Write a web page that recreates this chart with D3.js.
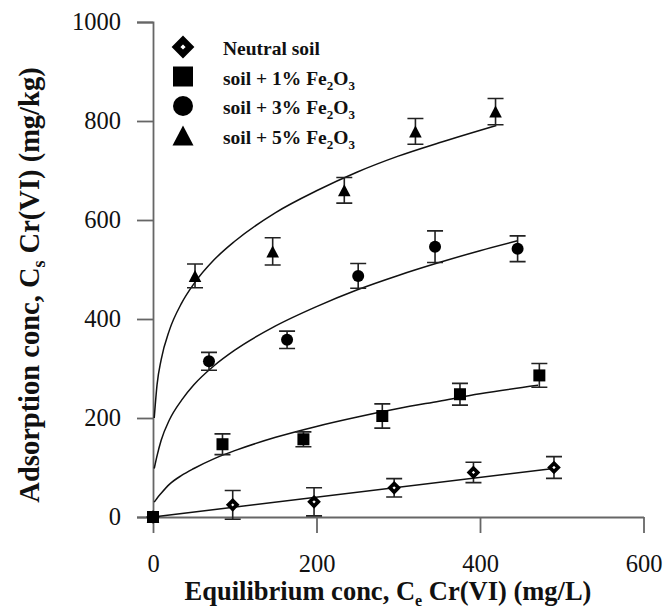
<!DOCTYPE html>
<html>
<head>
<meta charset="utf-8">
<script src="https://cdn.jsdelivr.net/npm/d3@7"></script>
<style>
  body { margin: 0; background: #fff; }
  svg { display: block; }
  svg text { font-family: 'Liberation Serif', 'Times New Roman', serif; }
</style>
</head>
<body>
<svg id="chart"></svg>
<script>
const WIDTH = 667;
const HEIGHT = 609;

// Pixel box of the plot area.
const X0 = 153, X1 = 643.5;
const Y0 = 517, Y1 = 22;

const AXIS_COLOR = '#666';
const TICK_SIZE = 16;

// Measured points (Ce in mg/L, Cs in mg/kg) with error bar half-widths.
const neutralX = [0, 97.5, 197, 295, 392, 490.5];
const neutralY = [0, 24.6, 30.7, 59, 90, 100];
const neutralErr = [0, 29, 28.5, 18.5, 20.5, 22];

const fe1X = [0, 85, 184, 280.5, 375.5, 472.6];
const fe1Y = [0, 147, 157, 204, 248, 286];
const fe1Err = [0, 21, 15, 24.5, 22, 24];

const fe3X = [0, 68.5, 164, 251, 345, 446];
const fe3Y = [0, 314.5, 358, 487, 546, 542];
const fe3Err = [0, 18, 17.5, 25, 32, 26];

const fe5X = [0, 51.4, 146.4, 234, 321, 419];
const fe5Y = [0, 487, 536.5, 660, 779, 819];
const fe5Err = [0, 24, 27.5, 26, 26, 26.5];

// Fitted isotherm curves.
const fitNeutralX = [0, 490];
const fitNeutralY = [0, 98];

const fit1X = [1.5, 5, 10, 20, 35, 50, 75, 100, 150, 200, 250, 300, 350, 400, 471];
const fit1Y = [30, 38, 48, 66, 84, 98, 118, 134, 161, 183, 202, 219, 234, 249, 266];

const fit3X = [1.5, 5, 10, 20, 35, 50, 75, 100, 150, 200, 250, 300, 350, 400, 446];
const fit3Y = [98, 124, 155, 196, 236, 267, 306, 337, 386, 425, 459, 488, 514, 538, 558];

const fit5X = [1.5, 5, 10, 20, 35, 50, 75, 100, 150, 200, 250, 300, 350, 420];
const fit5Y = [200, 268, 318, 377, 432, 471, 520, 557, 615, 659, 697, 729, 756, 791];

const xTicks = [0, 200, 400, 600];
const yTicks = [0, 200, 400, 600, 800, 1000];

const legendLabels = ['Neutral soil', 'soil + 1% Fe', 'soil + 3% Fe', 'soil + 5% Fe'];
const legendSymbols = ['diamond', 'square', 'circle', 'triangle'];

const series = [
  {symbol: 'diamond', xs: neutralX, ys: neutralY, errs: neutralErr, fx: fitNeutralX, fy: fitNeutralY},
  {symbol: 'square', xs: fe1X, ys: fe1Y, errs: fe1Err, fx: fit1X, fy: fit1Y},
  {symbol: 'circle', xs: fe3X, ys: fe3Y, errs: fe3Err, fx: fit3X, fy: fit3Y},
  {symbol: 'triangle', xs: fe5X, ys: fe5Y, errs: fe5Err, fx: fit5X, fy: fit5Y}
];

const svg = d3.select('#chart').attr('width', WIDTH).attr('height', HEIGHT);

const xScale = d3.scaleLinear().domain([0, 600]).range([X0, X1]);
const yScale = d3.scaleLinear().domain([0, 1000]).range([Y0, Y1]);

// Draws one marker centred on (cx, cy); r is half the box size.
function drawMarker(g, symbol, cx, cy, r) {
  if (symbol === 'square') {
    g.append('rect')
      .attr('x', cx - r).attr('y', cy - r)
      .attr('width', 2 * r).attr('height', 2 * r)
      .attr('fill', '#000');
  } else if (symbol === 'circle') {
    g.append('circle').attr('cx', cx).attr('cy', cy).attr('r', r).attr('fill', '#000');
  } else if (symbol === 'triangle') {
    g.append('path')
      .attr('d', `M${cx},${cy - r}L${cx + r * 1.05},${cy + r}L${cx - r * 1.05},${cy + r}Z`)
      .attr('fill', '#000');
  } else {
    // open diamond with a heavy outline
    const d = r * 0.7;
    g.append('path')
      .attr('d', `M${cx},${cy - d}L${cx + d},${cy}L${cx},${cy + d}L${cx - d},${cy}Z`)
      .attr('fill', '#fff')
      .attr('stroke', '#000')
      .attr('stroke-width', r * 0.62)
      .attr('stroke-linejoin', 'miter');
  }
}

// Axes
const xAxis = d3.axisBottom(xScale)
  .tickValues(xTicks)
  .tickFormat(d3.format('d'))
  .tickSize(TICK_SIZE)
  .tickSizeOuter(0)
  .tickPadding(22);

const yAxis = d3.axisLeft(yScale)
  .tickValues(yTicks)
  .tickFormat(d3.format('d'))
  .tickSize(TICK_SIZE)
  .tickSizeOuter(TICK_SIZE)
  .tickPadding(16);

const xAxisGroup = svg.append('g')
  .attr('transform', `translate(0, ${Y0})`)
  .call(xAxis);

const yAxisGroup = svg.append('g')
  .attr('transform', `translate(${X0}, 0)`)
  .call(yAxis);

for (const g of [xAxisGroup, yAxisGroup]) {
  g.attr('font-family', null).attr('font-size', null);
  g.selectAll('path, line').attr('stroke', AXIS_COLOR).attr('stroke-width', 1.8);
  g.selectAll('text')
    .attr('fill', '#111')
    .style('font-family', "'Liberation Serif', 'Times New Roman', serif")
    .style('font-size', '24.5px');
}

// Fitted curves
const line = d3.line()
  .x(d => xScale(d[0]))
  .y(d => yScale(d[1]))
  .curve(d3.curveMonotoneX);

for (const s of series) {
  svg.append('path')
    .datum(d3.zip(s.fx, s.fy))
    .attr('d', line)
    .attr('fill', 'none')
    .attr('stroke', '#111')
    .attr('stroke-width', 1.5);
}

// Error bars and markers
const CAP = 8;
for (const s of series) {
  const g = svg.append('g');
  s.xs.forEach((x, i) => {
    const e = s.errs[i];
    if (e > 0) {
      const px = xScale(x);
      const top = yScale(s.ys[i] + e);
      const bottom = yScale(s.ys[i] - e);
      g.append('path')
        .attr('d', `M${px},${top}V${bottom}M${px - CAP},${top}H${px + CAP}M${px - CAP},${bottom}H${px + CAP}`)
        .attr('fill', 'none')
        .attr('stroke', '#222')
        .attr('stroke-width', 1.6);
    }
  });
  s.xs.forEach((x, i) => drawMarker(g, s.symbol, xScale(x), yScale(s.ys[i]), 6));
}

// Legend
const legend = svg.append('g');
legendLabels.forEach((label, i) => {
  const baseline = 55 + i * 29.5;
  drawMarker(legend, legendSymbols[i], 183, baseline - 8, 10);
  const t = legend.append('text')
    .attr('x', 223).attr('y', baseline)
    .attr('fill', '#111')
    .attr('font-weight', 'bold')
    .style('font-size', '19.5px');
  t.append('tspan').text(label);
  if (i > 0) {
    t.append('tspan').attr('dy', 5).style('font-size', '13px').text('2');
    t.append('tspan').attr('dy', -5).text('O');
    t.append('tspan').attr('dy', 5).style('font-size', '13px').text('3');
  }
});

// Axis titles
const xTitle = svg.append('text')
  .attr('x', 388).attr('y', 600)
  .attr('text-anchor', 'middle')
  .attr('font-weight', 'bold')
  .attr('fill', '#111')
  .style('font-size', '26.5px');
xTitle.append('tspan').text('Equilibrium conc, C');
xTitle.append('tspan').attr('dy', 6).style('font-size', '16px').text('e');
xTitle.append('tspan').attr('dy', -6).text(' Cr(VI) (mg/L)');

const yTitle = svg.append('text')
  .attr('transform', 'translate(39, 285) rotate(-90)')
  .attr('text-anchor', 'middle')
  .attr('font-weight', 'bold')
  .attr('fill', '#111')
  .style('font-size', '28.5px');
yTitle.append('tspan').text('Adsorption conc, C');
yTitle.append('tspan').attr('dy', 6).style('font-size', '18px').text('s');
yTitle.append('tspan').attr('dy', -6).text(' Cr(VI) (mg/kg)');
</script>
</body>
</html>
